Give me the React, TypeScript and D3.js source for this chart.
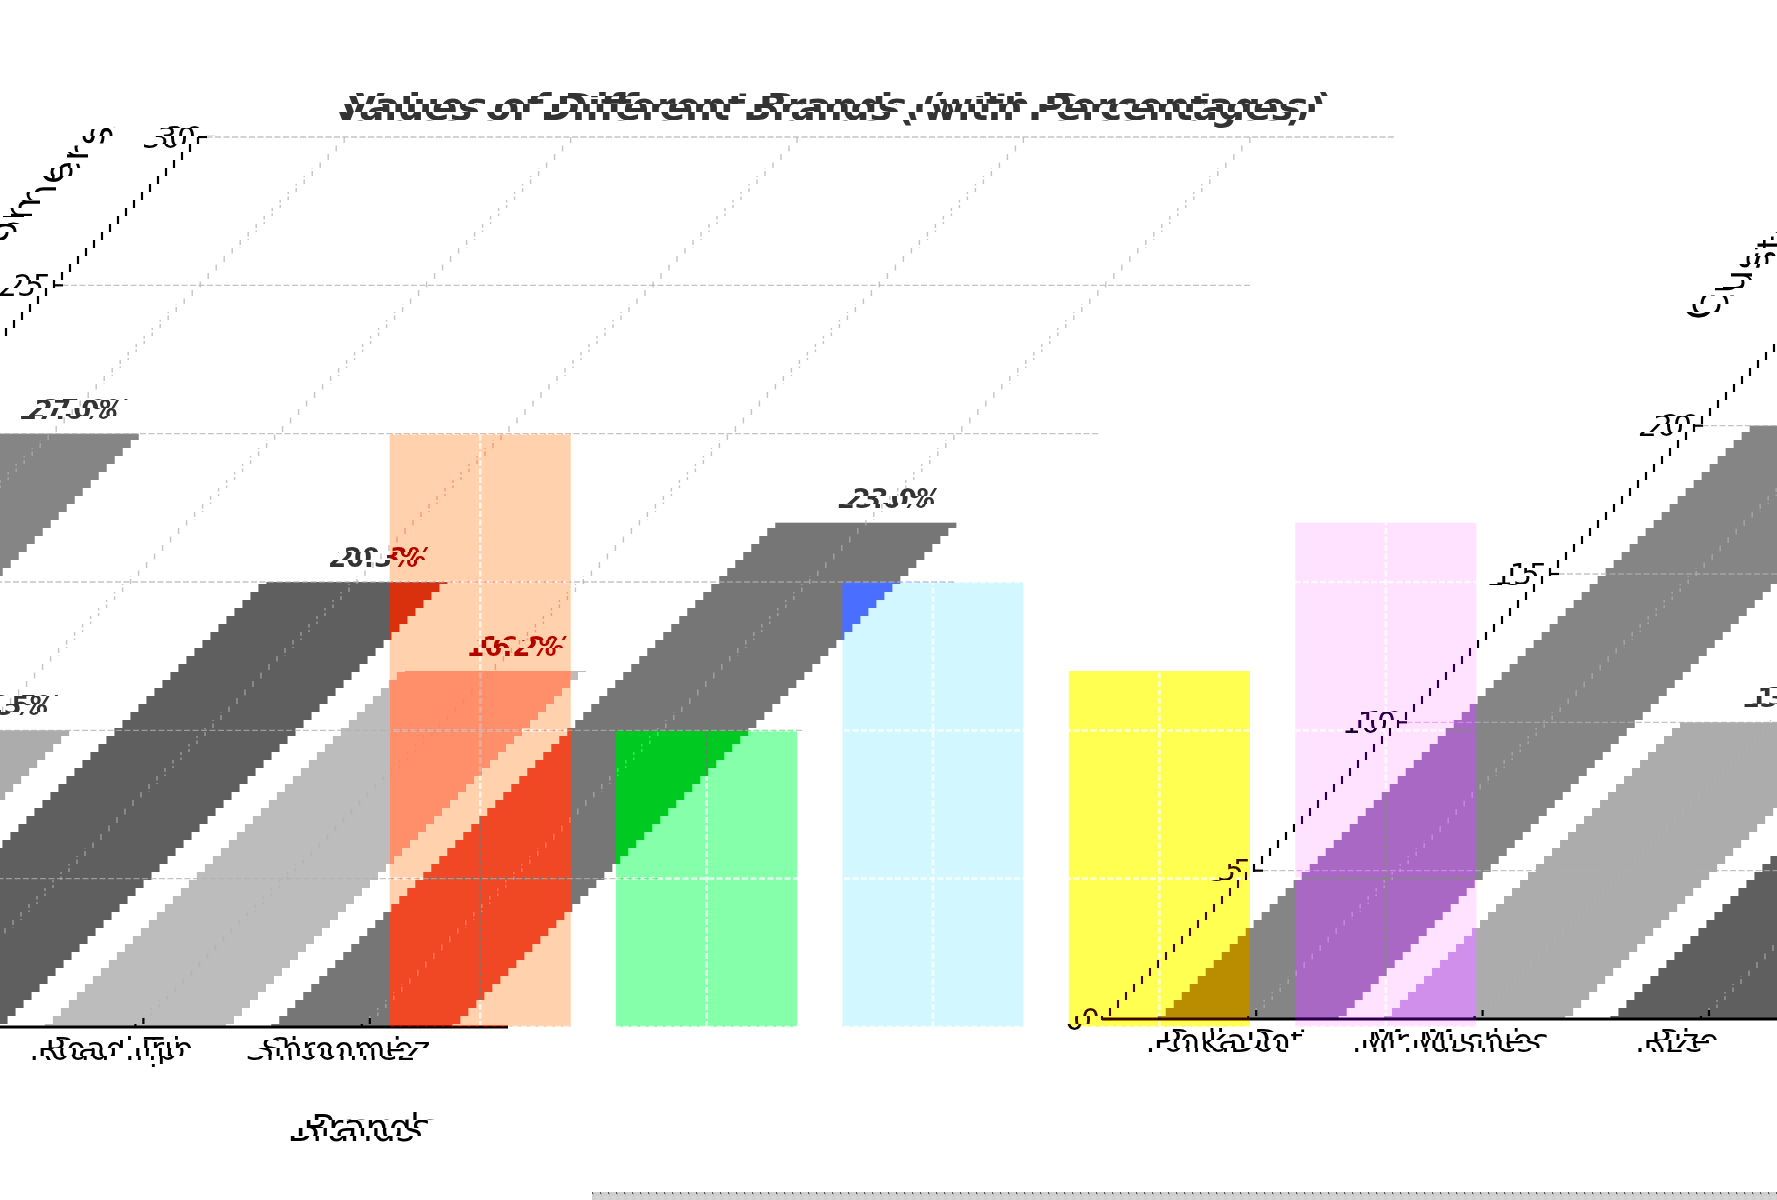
import React from "react";
import * as d3 from "d3";

const brands = ["PolkaDot", "Mr Mushies", "Rize", "Road Trip", "Shroomiez"];
const customers = [20, 10, 15, 12, 17];
const colors = ["#FF5733", "#33FF57", "#3357FF", "#F1C40F", "#9B59B6"];
const lumas = [133, 172, 95, 188, 118];
const yTicks = [0, 5, 10, 15, 20, 25, 30];
const titleText = "Values of Different Brands (with Percentages)";
const xTitle = "Brands";
const yTitle = "Customers";

const W = 1777;
const H = 1200;
const BAND = 8;
const STRIDE = 1784;
const total = d3.sum(customers);

const x = d3.scaleBand<string>().domain(brands).range([334, 1532]).paddingInner(0.2).paddingOuter(0.2457);
const y = d3.scaleLinear().domain([0, 30]).range([1027, 137]);
const gray = (l: number) => `rgb(${l},${l},${l})`;

function Grid({ stroke, opacity, width }: { stroke: string; opacity: number; width: number }) {
  return (
    <g stroke={stroke} strokeOpacity={opacity} strokeWidth={width} strokeDasharray="6 2.5" fill="none">
      {yTicks.map((t) => (
        <line key={t} x1={334} x2={1532} y1={y(t)} y2={y(t)} />
      ))}
      {brands.map((b) => {
        const c = x(b)! + x.bandwidth() / 2;
        return <line key={b} x1={c} x2={c} y1={137} y2={y(0)} />;
      })}
    </g>
  );
}

function Source() {
  const font = "'DejaVu Sans'";
  return (
    <g id="src" fontFamily={font}>
      <rect x={0} y={0} width={1792} height={1216} fill="#fff" />
      {brands.map((b, i) => (
        <rect key={b} x={x(b)} y={y(customers[i])} width={x.bandwidth()} height={y(0) - y(customers[i])} fill={gray(lumas[i])} />
      ))}
      <Grid stroke="#b0b0b0" opacity={0.75} width={1.4} />
      <text x={933} y={120} textAnchor="middle" fontSize={37.7} fontWeight="bold" fill="#333">{titleText}</text>
      {brands.map((b, i) => (
        <text key={b} x={x(b)! + x.bandwidth() / 2} y={y(customers[i]) - 15} textAnchor="middle" fontSize={26} fontWeight="bold" fill="#333">
          {((customers[i] / total) * 100).toFixed(1)}%
        </text>
      ))}
      <g stroke="#000" strokeWidth={2.2}>
        <line x1={334} x2={334} y1={137} y2={y(0) + 1} />
        <line x1={334} x2={1532} y1={y(0)} y2={y(0)} strokeWidth={3} />
        {yTicks.map((t) => (
          <line key={t} x1={334} x2={343} y1={y(t)} y2={y(t)} />
        ))}
        {brands.map((b) => {
          const c = x(b)! + x.bandwidth() / 2;
          return <line key={b} x1={c} x2={c} y1={y(0)} y2={y(0) - 9} />;
        })}
      </g>
      {yTicks.map((t) => (
        <text key={t} x={324} y={y(t) + 10.5} textAnchor="end" fontSize={30} fill="#000">{t}</text>
      ))}
      {brands.map((b) => (
        <text key={b} x={x(b)! + x.bandwidth() / 2} y={1060} textAnchor="middle" fontSize={32} fill="#000">{b}</text>
      ))}
      <text x={1487} y={1141} textAnchor="middle" fontSize={36.5} fill="#000">{xTitle}</text>
      <text transform={`translate(240,126) rotate(-90)`} textAnchor="end" fontSize={37.5} fill="#000">{yTitle}</text>
    </g>
  );
}

function ChromaLayer({ sign }: { sign: 1 | -1 }) {
  return (
    <g style={{ mixBlendMode: "plus-lighter" as any, isolation: "isolate" }}>
      {brands.map((b, i) => {
        const c = d3.rgb(colors[i]);
        const l = lumas[i];
        const ch = (v: number) => Math.max(0, sign * (v - l));
        return (
          <rect key={b} x={x(b)} y={y(customers[i])} width={x.bandwidth()} height={y(0) - y(customers[i])} fill={`rgb(${ch(c.r)},${ch(c.g)},${ch(c.b)})`} />
        );
      })}
      <Grid stroke="#000" opacity={0.7} width={2.6} />
    </g>
  );
}

export default function App() {
  const rows = d3.range(Math.ceil(H / BAND));
  return (
    <svg width={W} height={H} viewBox={`0 0 ${W} ${H}`} style={{ position: "absolute", left: 0, top: 0, isolation: "isolate", background: "#fff" }}>
      <defs>
        <Source />
        <pattern id="tail" x={592} y={1192} width={8} height={8} patternUnits="userSpaceOnUse">
          <rect width={8} height={8} fill="#cfcfcf" />
          <rect x={0} y={0} width={1} height={2} fill="#555" />
          <rect x={1} y={1} width={1} height={2} fill="#aaa" />
          <rect x={4} y={4} width={4} height={4} fill="#d6d6d6" />
        </pattern>
      </defs>
      <rect width={W} height={H} fill="#fff" />
      {rows.map((d) => (
        <g key={d}>
          <svg x={0} y={d * BAND} width={STRIDE - d * BAND} height={BAND} overflow="hidden">
            <use href="#src" x={-d * BAND} y={-d * BAND} />
          </svg>
          {d < rows.length - 1 ? (
            <svg x={STRIDE - d * BAND} y={d * BAND} width={(d + 1) * BAND} height={BAND} overflow="hidden">
              <use href="#src" x={0} y={-(d + 1) * BAND} />
            </svg>
          ) : (
            <rect x={STRIDE - d * BAND} y={d * BAND} width={W} height={BAND} fill="url(#tail)" />
          )}
        </g>
      ))}
      <ChromaLayer sign={1} />
      <rect width={W} height={H} fill="#fff" style={{ mixBlendMode: "difference" }} />
      <ChromaLayer sign={-1} />
      <rect width={W} height={H} fill="#fff" style={{ mixBlendMode: "difference" }} />
    </svg>
  );
}
